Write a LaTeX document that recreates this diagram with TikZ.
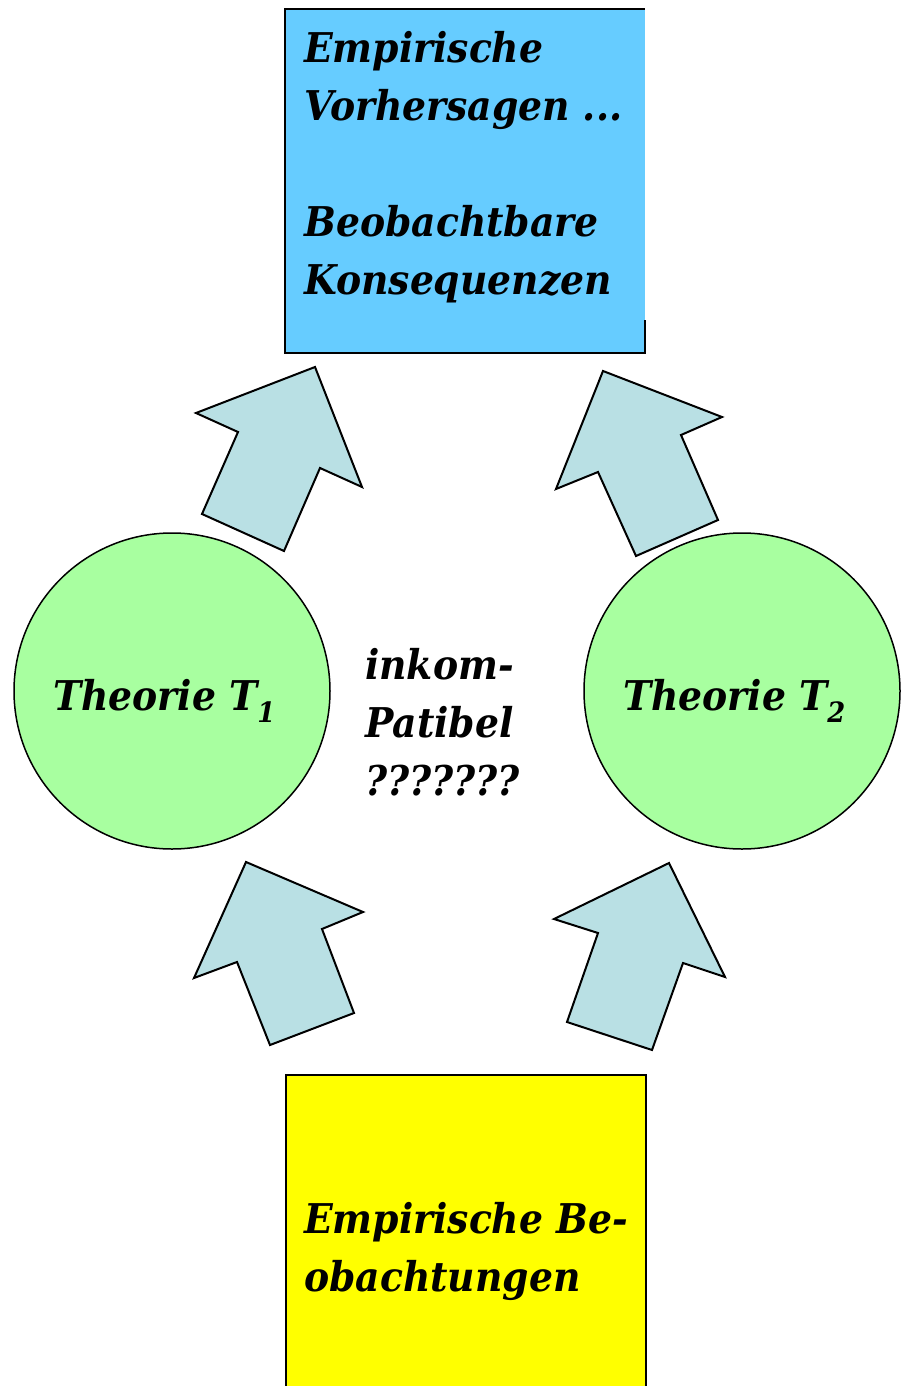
\documentclass[tikz,border=0pt]{standalone}
\usepackage{fontspec}
\setmainfont[FakeStretch=0.92]{DejaVu Serif}
\definecolor{boxblue}{RGB}{102,204,255}
\definecolor{boxyellow}{RGB}{255,255,0}
\definecolor{circgreen}{RGB}{168,255,160}
\definecolor{arrowfill}{RGB}{185,224,228}
\newcommand{\bigtxt}{\fontsize{41}{58}\selectfont\bfseries\itshape}
\newcommand{\mylines}[1]{\vtop{\baselineskip=58pt\lineskiplimit=-100pt\lineskip=0pt #1}}
\newcommand{\subtxt}[1]{\raisebox{-12pt}{\fontsize{28}{28}\selectfont #1}}
\tikzset{
  txt/.style={anchor=base west, inner sep=0pt, font=\bigtxt},
  theory/.style={circle, draw=black, line width=1.5pt, fill=circgreen, minimum size=316pt, inner sep=0pt},
  bigarrow/.style={draw=black, line width=2pt, fill=arrowfill, line join=miter},
  boxborder/.style={draw=black, line width=2pt}
}
\begin{document}
\begin{tikzpicture}[x=1pt,y=-1pt]
\useasboundingbox (0,0) rectangle (906,1386);
\clip (0,0) rectangle (906,1386);
% top box
\node[fill=boxblue, inner sep=0pt, minimum width=360pt, minimum height=344pt, anchor=north west] (top) at (285,9) {};
\draw[boxborder] ([yshift=33pt]top.south east) -- (top.south east) -- (top.south west) -- (top.north west) -- (top.north east);
\node[txt] (toptext) at (304,63) {\mylines{\hbox{Empirische}\hbox{Vorhersagen ...}\hbox{}\hbox{Beobachtbare}\hbox{Konsequenzen}}};
% bottom box
\node[fill=boxyellow, draw=black, line width=2pt, inner sep=0pt, minimum width=360pt, minimum height=330pt, anchor=north west] (bottom) at (285,1074) {};
\node[txt] (bottomtext) at (304,1233) {\mylines{\hbox{Empirische Be-}\hbox{obachtungen}}};
% circles
\node[theory] (t1) at (172,691) {};
\node[theory] (t2) at (742,691) {};
\node[txt] (t1text) at (53,710) {Theorie T\subtxt{1}};
\node[txt] (t2text) at (623,710) {Theorie T\subtxt{2}};
% middle text
\node[txt] (mid) at (365,679) {\mylines{\hbox{inkom-}\hbox{Patibel}\hbox{???????}}};
% arrows
\draw[bigarrow] (315,367) -- (362,487) -- (320,468) -- (284,551) -- (202,514) -- (238,432) -- (196,413) -- cycle;
\draw[bigarrow] (603,371) -- (722,417) -- (681,435) -- (718,520) -- (636,556) -- (598,472) -- (556,489) -- cycle;
\draw[bigarrow] (246,862) -- (363,912) -- (322,929) -- (354,1013) -- (270,1045) -- (237,962) -- (194,978) -- cycle;
\draw[bigarrow] (669,863) -- (725,977) -- (683,963) -- (652,1050) -- (567,1022) -- (598,933) -- (554,919) -- cycle;
\end{tikzpicture}
\end{document}
